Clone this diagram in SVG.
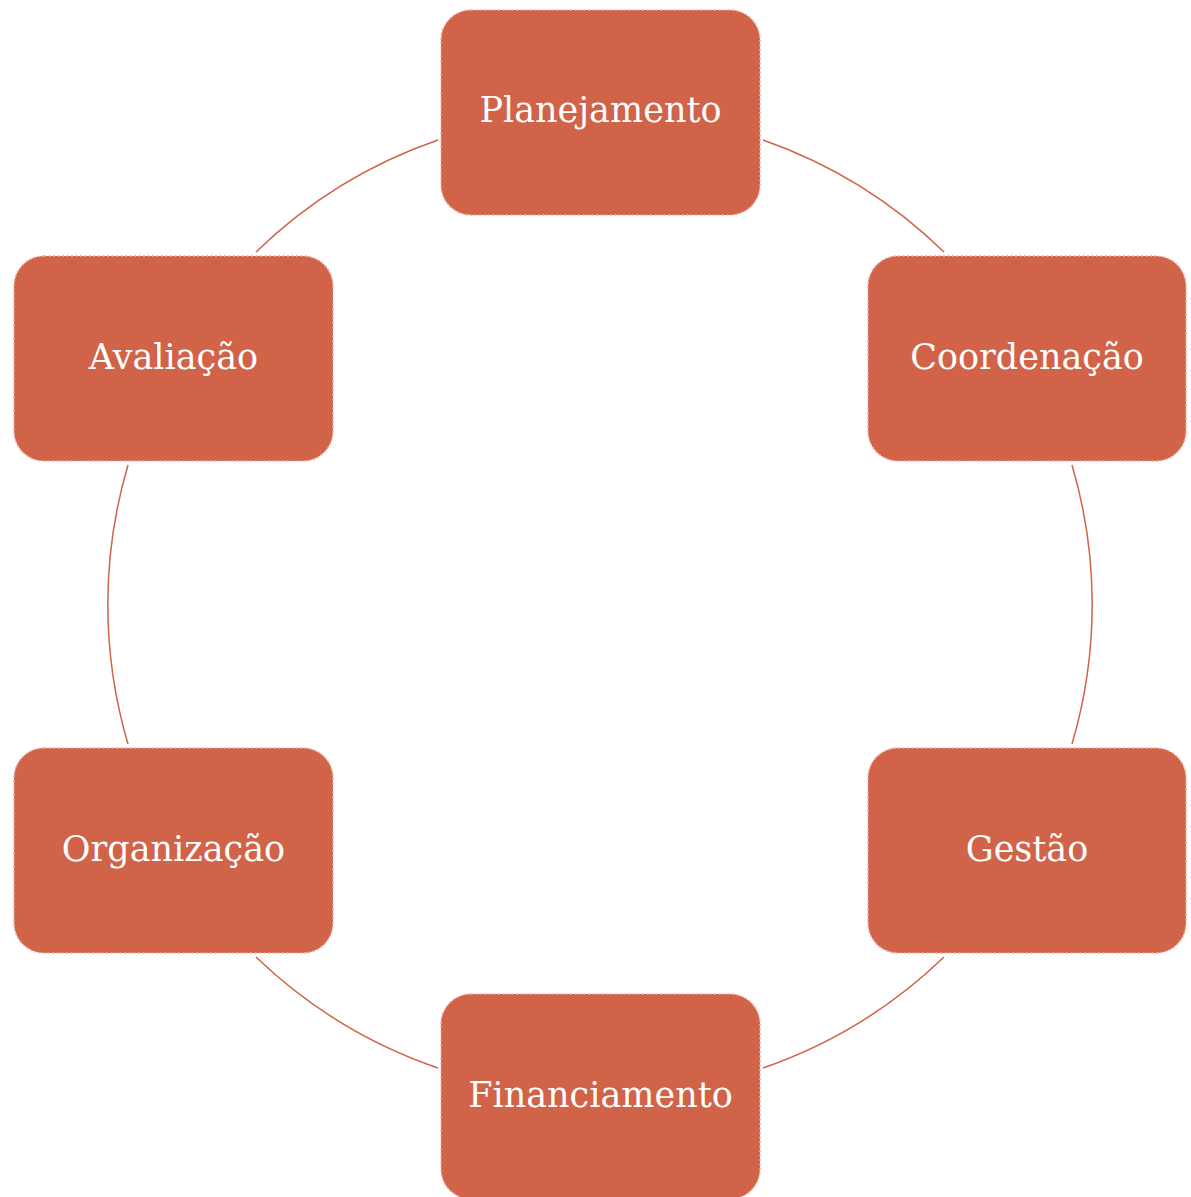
<svg xmlns="http://www.w3.org/2000/svg" width="1191" height="1197" viewBox="0 0 1191 1197">
<style>
.box{fill:#D16349;stroke:#EFA99A;stroke-width:1.5;stroke-dasharray:2 2.5}
.lbl{fill:#ffffff;font-family:"DejaVu Serif","Liberation Serif",serif;font-size:35px;text-anchor:middle}
.arc{fill:none;stroke:#D16349;stroke-width:1.5}
</style>
<rect width="1191" height="1197" fill="#ffffff"/>
<g id="connectors">
<path class="arc" d="M438,140 A492,492 0 0 0 256,252"/>
<path class="arc" d="M763,140 A492,492 0 0 1 944,252"/>
<path class="arc" d="M128,465 A492,492 0 0 0 128,744"/>
<path class="arc" d="M1072,465 A492,492 0 0 1 1072,744"/>
<path class="arc" d="M256,957 A492,492 0 0 0 438,1068"/>
<path class="arc" d="M944,957 A492,492 0 0 1 763,1068"/>
</g>
<g id="planejamento"><rect class="box" x="441" y="10" width="319" height="205" rx="30"/><text class="lbl" x="600.5" y="122">Planejamento</text></g>
<g id="coordenacao"><rect class="box" x="868" y="256" width="318" height="205" rx="30"/><text class="lbl" x="1027" y="369">Coordenação</text></g>
<g id="gestao"><rect class="box" x="868" y="748" width="318" height="205" rx="30"/><text class="lbl" x="1027" y="861">Gestão</text></g>
<g id="financiamento"><rect class="box" x="441" y="994" width="319" height="205" rx="30"/><text class="lbl" x="600.5" y="1107">Financiamento</text></g>
<g id="organizacao"><rect class="box" x="14" y="748" width="319" height="205" rx="30"/><text class="lbl" x="173.5" y="861">Organização</text></g>
<g id="avaliacao"><rect class="box" x="14" y="256" width="319" height="205" rx="30"/><text class="lbl" x="173.5" y="369">Avaliação</text></g>
</svg>
